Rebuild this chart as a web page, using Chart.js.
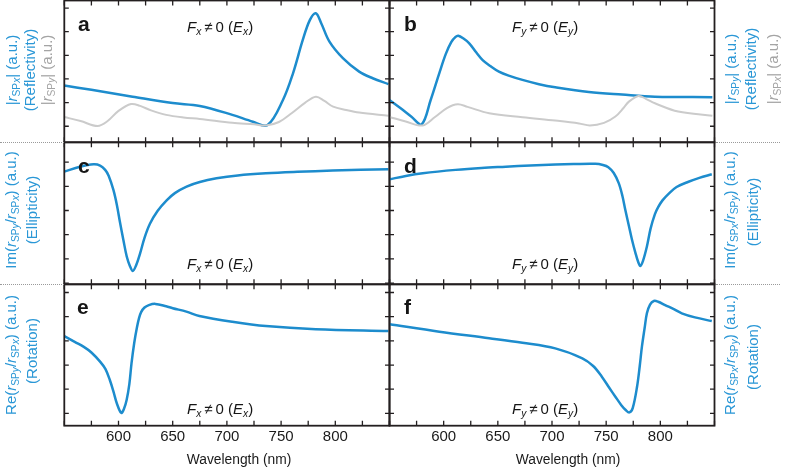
<!DOCTYPE html>
<html><head><meta charset="utf-8">
<script src="https://cdn.jsdelivr.net/npm/chart.js@4.4.0/dist/chart.umd.min.js"></script>
<style>
html,body{margin:0;padding:0;background:#fff;}
#wrap{position:relative;width:786px;height:468px;overflow:hidden;font-family:"Liberation Sans",Arial,Helvetica,sans-serif;}
canvas{position:absolute;left:0;top:0;}
.lab{position:absolute;white-space:nowrap;transform:translate(-50%,-50%) rotate(-90deg);font-size:15px;line-height:1;}
.blue{color:#2a97d6;}
.gray{color:#a4a4a4;}
.ann{position:absolute;white-space:nowrap;font-size:15px;line-height:1;color:#151515;}
.let{position:absolute;font-size:21px;font-weight:bold;line-height:1;color:#151515;}
sub{font-size:68%;vertical-align:-0.3em;line-height:0;}
.dot{position:absolute;height:0;border-top:1px dotted #9a9a9a;}
</style></head>
<body><div id="wrap"></div>
<script>
// ---------------- DATA ----------------
const xTickLabels = [600, 650, 700, 750, 800];
const xMinorStep = 25;

// Panel a: Fx != 0 (Ex)
const lamA_rx = [550,575,613,650,675,705,724,737.5,751.7,761,770,776.5,782,787,794.6,807,822,834.5,849];
const valA_rx = [1.72,1.54,1.25,0.98,0.86,0.48,0.19,0.05,1.11,2.24,3.65,4.49,4.78,4.36,3.58,2.88,2.31,2.03,1.78];
const lamA_ry = [550,565,580.7,590,600,611.6,620,630,644,660,675,705,725,736,748,760,772,782,790,798,810,822,849];
const valA_ry = [0.39,0.22,0.01,0.22,0.65,0.94,0.86,0.67,0.48,0.37,0.31,0.15,0.08,0.03,0.18,0.56,0.99,1.25,1.07,0.83,0.69,0.58,0.44];

// Panel b: Fy != 0 (Ey)
const lamB_ry = [550,560,570,579.7,588,596,602,607,611,613.5,618,623.6,630,636,643,651,660,672.7,688,703,734,764.6,795,848];
const valB_ry = [1.11,0.77,0.41,0.08,1.11,2.25,3.06,3.56,3.78,3.83,3.72,3.51,3.13,2.80,2.55,2.31,2.14,1.96,1.78,1.65,1.45,1.34,1.25,1.23];
const lamB_rx = [550,565,580.6,592,603,613,622,642,672.7,703,725,735,748,758.5,766,771,780,787,795,816.5,848];
const valB_rx = [0.39,0.20,0.03,0.39,0.77,0.93,0.82,0.55,0.38,0.24,0.12,0.03,0.14,0.41,0.77,1.04,1.28,1.15,0.97,0.62,0.44];

// Panel c: ellipticity, Fx != 0
const lamC = [550,564.5,577,583,587.7,591,595.3,598.5,601.5,604.5,607.6,610.5,613.2,616,620,624,629,636,644.4,652,662.8,675,690.4,710,736,765,797.5,849];
const valC = [3.61,3.81,3.91,3.86,3.68,3.43,2.85,2.23,1.48,0.78,0.10,-0.29,-0.50,-0.29,0.24,0.87,1.45,1.98,2.42,2.72,2.99,3.18,3.33,3.45,3.54,3.60,3.65,3.71];

// Panel d: ellipticity, Fy != 0
const lamD = [550,565,580.7,611,635,657.4,680,703,720,740,747,752,757,761.6,765,767.7,771,773.9,777,779.5,781.5,784,787.6,791,795,798,802,807.6,815,826,836,847.5];
const valD = [3.29,3.43,3.54,3.68,3.76,3.81,3.86,3.90,3.92,3.93,3.88,3.79,3.55,3.13,2.60,2.02,1.36,0.78,0.25,-0.12,-0.29,-0.08,0.51,1.25,1.85,2.14,2.42,2.69,2.97,3.19,3.35,3.50];

// Panel e: rotation, Fx != 0
const lamE = [550,560,568,575,583,588,592,595.5,598.5,602.5,605,607.5,610,612,614.5,617,619,621,624,628,634,644,650,662.6,674.6,705,736,782,849];
const valE = [3.20,2.95,2.75,2.52,2.14,1.83,1.38,0.88,0.41,0.02,0.18,0.55,1.21,2.07,2.91,3.55,3.95,4.20,4.38,4.48,4.53,4.43,4.35,4.21,4.03,3.79,3.61,3.48,3.41];

// Panel f: rotation, Fy != 0
const lamF = [550,596,642,672.7,703,728,738,746,753,758.5,764,768,771.4,774.5,778.5,781,783,785.5,787.6,790.5,794,798,804.4,812,819.8,832,847.5];
const valF = [3.69,3.38,3.11,2.92,2.69,2.28,1.96,1.52,1.05,0.69,0.34,0.14,0.04,0.22,1.10,1.96,2.76,3.53,4.14,4.50,4.65,4.62,4.48,4.32,4.14,3.97,3.82];

// ---------------- STYLE / LAYOUT ----------------
const BLUE = '#1d8ccd', GRAY = '#cbcbcb', INK = '#231f20';
const W = 786, H = 468;
const COLS = [[64.3, 389.5], [389.5, 714.5]];
const ROWS = [
  {top: 0.5,   bottom: 142.3, ymin: -0.68, ymax: 5.32},
  {top: 142.3, bottom: 284.3, ymin: -1.05, ymax: 4.82},
  {top: 284.3, bottom: 425.7, ymin: -0.51, ymax: 5.34}
];

function pts(l, v) { return l.map((x, i) => ({x: x, y: v[i]})); }

const panels = [
  {row:0, col:0, sets:[{l:lamA_ry, v:valA_ry, c:GRAY, w:2}, {l:lamA_rx, v:valA_rx, c:BLUE, w:2.5}]},
  {row:0, col:1, sets:[{l:lamB_rx, v:valB_rx, c:GRAY, w:2}, {l:lamB_ry, v:valB_ry, c:BLUE, w:2.5}]},
  {row:1, col:0, sets:[{l:lamC, v:valC, c:BLUE, w:2.5}]},
  {row:1, col:1, sets:[{l:lamD, v:valD, c:BLUE, w:2.5}]},
  {row:2, col:0, sets:[{l:lamE, v:valE, c:BLUE, w:2.5}], xlab:true, titleX:239},
  {row:2, col:1, sets:[{l:lamF, v:valF, c:BLUE, w:2.5}], xlab:true, titleX:568}
];

const framePlugin = {
  id: 'frame',
  afterDatasetsDraw(chart, args, opts) {
    const ctx = chart.ctx, a = chart.chartArea, x = chart.scales.x, y = chart.scales.y;
    ctx.save();
    ctx.strokeStyle = INK;
    ctx.lineWidth = 1.3;
    ctx.beginPath();
    for (let v = x.min; v <= x.max + 0.01; v += xMinorStep) {
      const px = x.getPixelForValue(v);
      ctx.moveTo(px, a.top); ctx.lineTo(px, a.top + 5);
      ctx.moveTo(px, a.bottom); ctx.lineTo(px, a.bottom - 5);
    }
    for (let v = Math.ceil(y.min); v <= y.max; v++) {
      const py = y.getPixelForValue(v);
      ctx.moveTo(a.left, py); ctx.lineTo(a.left + 4.5, py);
      ctx.moveTo(a.right, py); ctx.lineTo(a.right - 4.5, py);
    }
    ctx.stroke();
    ctx.lineWidth = 1.8;
    ctx.strokeRect(a.left, a.top, a.right - a.left, a.bottom - a.top);
    if (opts.xlab) {
      ctx.fillStyle = '#1a1a1a';
      ctx.font = '15px "Liberation Sans", Arial, sans-serif';
      ctx.textAlign = 'center';
      ctx.textBaseline = 'middle';
      xTickLabels.forEach(v => ctx.fillText(String(v), x.getPixelForValue(v), a.bottom + 11.5));
      ctx.font = '13.8px "Liberation Sans", Arial, sans-serif';
      ctx.fillText('Wavelength (nm)', opts.titleX, a.bottom + 34);
    }
    ctx.restore();
  }
};

const wrap = document.getElementById('wrap');
panels.forEach(p => {
  const cv = document.createElement('canvas');
  cv.width = W; cv.height = H;
  cv.style.width = W + 'px'; cv.style.height = H + 'px';
  wrap.appendChild(cv);
  const r = ROWS[p.row], c = COLS[p.col];
  new Chart(cv, {
    type: 'line',
    data: {datasets: p.sets.map(s => ({
      data: pts(s.l, s.v), borderColor: s.c, borderWidth: s.w,
      pointRadius: 0, fill: false, tension: 0.35
    }))},
    options: {
      responsive: false, animation: false, devicePixelRatio: 1,
      layout: {padding: {left: c[0], right: W - c[1], top: r.top, bottom: H - r.bottom}},
      plugins: {legend: {display: false}, tooltip: {enabled: false},
        frame: {xlab: !!p.xlab, titleX: p.titleX}},
      scales: {
        x: {type: 'linear', min: 550, max: 850, display: false},
        y: {type: 'linear', min: r.ymin, max: r.ymax, display: false}
      },
      events: []
    },
    plugins: [framePlugin]
  });
});

// ---------------- TEXT OVERLAYS ----------------
function add(cls, html, cx, cy, style) {
  const d = document.createElement('div');
  d.className = cls; d.innerHTML = html;
  d.style.left = cx + 'px'; d.style.top = cy + 'px';
  if (style) d.style.cssText += style;
  wrap.appendChild(d);
}
const rSPx = '<i>r</i><sub>SP<i>x</i></sub>', rSPy = '<i>r</i><sub>SP<i>y</i></sub>';
// left labels
add('lab blue', '|' + rSPx + '| (a.u.)', 11, 70);
add('lab blue', '(Reflectivity)', 29, 70);
add('lab gray', '|' + rSPy + '| (a.u.)', 46, 70);
add('lab blue', 'Im(' + rSPy + '/' + rSPx + ') (a.u.)', 10, 210);
add('lab blue', '(Ellipticity)', 31, 210);
add('lab blue', 'Re(' + rSPy + '/' + rSPx + ') (a.u.)', 10, 355);
add('lab blue', '(Rotation)', 31, 351);
// right labels
add('lab blue', '|' + rSPy + '| (a.u.)', 730, 69);
add('lab blue', '(Reflectivity)', 750, 69);
add('lab gray', '|' + rSPx + '| (a.u.)', 772, 69);
add('lab blue', 'Im(' + rSPx + '/' + rSPy + ') (a.u.)', 729, 210);
add('lab blue', '(Ellipticity)', 752, 212);
add('lab blue', 'Re(' + rSPx + '/' + rSPy + ') (a.u.)', 729, 355);
add('lab blue', '(Rotation)', 752, 357);
// panel letters
[['a',78,13],['b',404,13],['c',78,155],['d',404,155],['e',77,296],['f',404,296]].forEach(t => add('let', t[0], t[1], t[2]));
// annotations
const Fx = '<i>F</i><sub><i>x</i></sub>&thinsp;≠&thinsp;0 (<i>E</i><sub><i>x</i></sub>)';
const Fy = '<i>F</i><sub><i>y</i></sub>&thinsp;≠&thinsp;0 (<i>E</i><sub><i>y</i></sub>)';
add('ann', Fx, 187, 19);
add('ann', Fy, 512, 19);
add('ann', Fx, 187, 256);
add('ann', Fy, 512, 256);
add('ann', Fx, 187, 401);
add('ann', Fy, 512, 401);
// dotted separators
[[142.3],[284.3]].forEach(yy => {
  add('dot', '', 0, yy[0], 'width:64px;');
  add('dot', '', 716, yy[0], 'width:64px;');
});
</script></body></html>
